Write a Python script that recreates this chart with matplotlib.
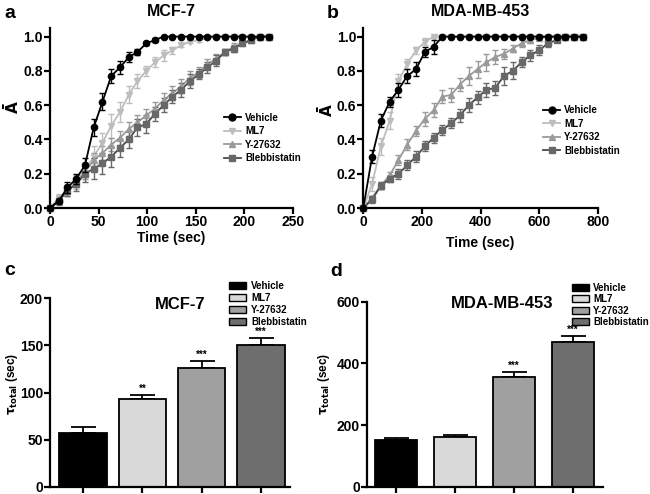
import matplotlib
matplotlib.use("Agg")
import matplotlib.pyplot as plt
from matplotlib.patches import Patch
from matplotlib.lines import Line2D
import numpy as np

plt.rcParams['font.family'] = ['Liberation Sans', 'DejaVu Sans']
plt.rcParams['font.weight'] = 'bold'
plt.rcParams['mathtext.default'] = 'bf'

groups = ["Vehicle", "ML7", "Y-27632", "Blebbistatin"]

# Panel a: MCF-7 (time step 9 s)
t_a = list(range(0, 226, 9))
a_vehicle = [0, 0.04, 0.12, 0.17, 0.25, 0.47, 0.62, 0.77, 0.82, 0.88, 0.91, 0.96, 0.98,
             1.0, 1.0, 1.0, 1.0, 1.0, 1.0, 1.0, 1.0, 1.0, 1.0, 1.0, 1.0, 1.0]
a_vehicle_err = [0, 0.01, 0.03, 0.03, 0.04, 0.05, 0.05, 0.04, 0.04, 0.03, 0.02, 0.01, 0.01,
                 0, 0, 0, 0, 0, 0, 0, 0, 0, 0, 0, 0, 0]
a_ml7 = [0, 0.06, 0.10, 0.15, 0.22, 0.30, 0.38, 0.48, 0.56, 0.66, 0.74, 0.80, 0.85,
         0.89, 0.92, 0.95, 0.97, 0.98, 0.99, 1.0, 1.0, 1.0, 1.0, 1.0, 1.0, 1.0]
a_ml7_err = [0, 0.02, 0.03, 0.04, 0.05, 0.06, 0.06, 0.07, 0.06, 0.05, 0.04, 0.03, 0.03,
             0.03, 0.02, 0.01, 0.01, 0.01, 0, 0, 0, 0, 0, 0, 0, 0]
a_y27632 = [0, 0.05, 0.10, 0.15, 0.21, 0.28, 0.32, 0.37, 0.41, 0.46, 0.50, 0.54, 0.58,
            0.63, 0.67, 0.71, 0.76, 0.79, 0.84, 0.87, 0.91, 0.94, 0.96, 0.98, 1.0, 1.0]
a_y27632_err = [0, 0.02, 0.03, 0.03, 0.04, 0.04, 0.04, 0.04, 0.04, 0.04, 0.04, 0.04, 0.04,
                0.04, 0.04, 0.04, 0.04, 0.03, 0.03, 0.03, 0.02, 0.02, 0.01, 0.01, 0, 0]
a_bleb = [0, 0.04, 0.10, 0.14, 0.20, 0.23, 0.26, 0.30, 0.35, 0.40, 0.47, 0.49, 0.55,
          0.60, 0.65, 0.69, 0.74, 0.78, 0.82, 0.86, 0.91, 0.93, 0.96, 0.98, 1.0, 1.0]
a_bleb_err = [0, 0.02, 0.03, 0.04, 0.05, 0.06, 0.06, 0.06, 0.05, 0.05, 0.05, 0.05, 0.04,
              0.04, 0.04, 0.04, 0.04, 0.03, 0.03, 0.03, 0.02, 0.02, 0.01, 0.01, 0, 0]

# Panel b: MDA-MB-453 (time step 30 s)
t_b = list(range(0, 751, 30))
b_vehicle = [0, 0.30, 0.51, 0.62, 0.69, 0.77, 0.81, 0.91, 0.94, 1.0, 1.0, 1.0, 1.0,
             1.0, 1.0, 1.0, 1.0, 1.0, 1.0, 1.0, 1.0, 1.0, 1.0, 1.0, 1.0, 1.0]
b_vehicle_err = [0, 0.04, 0.04, 0.03, 0.04, 0.04, 0.04, 0.03, 0.04, 0, 0, 0, 0,
                 0, 0, 0, 0, 0, 0, 0, 0, 0, 0, 0, 0, 0]
b_ml7 = [0, 0.14, 0.36, 0.51, 0.74, 0.84, 0.92, 0.97, 1.0, 1.0, 1.0, 1.0, 1.0,
         1.0, 1.0, 1.0, 1.0, 1.0, 1.0, 1.0, 1.0, 1.0, 1.0, 1.0, 1.0, 1.0]
b_ml7_err = [0, 0.04, 0.05, 0.05, 0.04, 0.03, 0.02, 0.02, 0.01, 0, 0, 0, 0,
             0, 0, 0, 0, 0, 0, 0, 0, 0, 0, 0, 0, 0]
b_y27632 = [0, 0.06, 0.13, 0.19, 0.28, 0.37, 0.45, 0.52, 0.57, 0.65, 0.66, 0.72, 0.77,
            0.81, 0.85, 0.88, 0.90, 0.93, 0.96, 0.98, 0.99, 1.0, 1.0, 1.0, 1.0, 1.0]
b_y27632_err = [0, 0.01, 0.02, 0.02, 0.03, 0.03, 0.03, 0.04, 0.04, 0.04, 0.04, 0.04, 0.05,
                0.05, 0.05, 0.04, 0.03, 0.02, 0.02, 0.02, 0.01, 0.01, 0, 0, 0, 0]
b_bleb = [0, 0.05, 0.13, 0.17, 0.20, 0.25, 0.30, 0.36, 0.41, 0.455, 0.495, 0.54, 0.60,
          0.645, 0.69, 0.70, 0.77, 0.80, 0.85, 0.89, 0.92, 0.96, 0.98, 1.0, 1.0, 1.0]
b_bleb_err = [0, 0.02, 0.02, 0.02, 0.03, 0.03, 0.03, 0.03, 0.03, 0.03, 0.03, 0.04, 0.04,
              0.04, 0.04, 0.04, 0.05, 0.05, 0.03, 0.03, 0.03, 0.02, 0.01, 0.01, 0, 0]

# Panel c / d bars
c_vals = [57, 93, 126, 150]
c_errs = [6, 4, 7, 8]
c_sig = ["", "**", "***", "***"]
d_vals = [150, 162, 355, 470]
d_errs = [8, 5, 18, 18]
d_sig = ["", "", "***", "***"]

line_colors = ["black", "#bdbdbd", "#9a9a9a", "#4a4a4a"]
marker_colors = ["black", "#bdbdbd", "#9a9a9a", "#686868"]
markers = ["o", "v", "^", "s"]
bar_colors = ["black", "#d9d9d9", "#a0a0a0", "#6e6e6e"]

W, H = 650, 494
fig = plt.figure(figsize=(6.5, 4.94), dpi=100)

def ax_px(l, r, b, t):
    return fig.add_axes([l / W, (H - b) / H, (r - l) / W, (b - t) / H])

def px_to_axes(ax, x, y):
    inv = ax.transAxes.inverted()
    return inv.transform(fig.transFigure.transform((x / W, 1 - y / H)))

def style(ax):
    for s in ["top", "right"]:
        ax.spines[s].set_visible(False)
    for s in ["left", "bottom"]:
        ax.spines[s].set_linewidth(1.6)
    ax.tick_params(width=1.6, length=4, labelsize=10, direction='out', pad=1)
    for lab in ax.get_xticklabels() + ax.get_yticklabels():
        lab.set_fontweight('bold')

def curves(ax, t, series, errs):
    handles = []
    for i in [3, 2, 1, 0]:
        ax.plot(t, series[i], color=line_colors[i], lw=1.3, zorder=2 + i * 0.1 if i else 5)
        ax.errorbar(t, series[i], yerr=errs[i], fmt=markers[i], color=marker_colors[i],
                    ms=4.5 if i == 0 else 5, capsize=2.5, elinewidth=1.0, capthick=1.0,
                    zorder=3 + i * 0.1 if i else 6, clip_on=False)
    for i in range(4):
        handles.append(Line2D([0], [0], color=line_colors[i], marker=markers[i],
                              markerfacecolor=marker_colors[i], markeredgecolor=marker_colors[i],
                              ms=5, lw=1.3))
    return handles

def place_ylabel(ax, label, x, y, size):
    ax.set_ylabel(label, fontsize=size, fontweight='bold', va='center')
    ax.yaxis.set_label_coords(*px_to_axes(ax, x, y))

# Panel a
axa = ax_px(50, 293, 208, 28)
h = curves(axa, t_a, [a_vehicle, a_ml7, a_y27632, a_bleb],
           [a_vehicle_err, a_ml7_err, a_y27632_err, a_bleb_err])
axa.set_xlim(0, 250)
axa.set_ylim(0, 1.05)
axa.set_xticks([0, 50, 100, 150, 200, 250])
axa.set_yticks([0, 0.2, 0.4, 0.6, 0.8, 1.0])
axa.set_yticklabels(["0.0", "0.2", "0.4", "0.6", "0.8", "1.0"])
style(axa)
axa.set_xlabel("Time (sec)", fontsize=10, fontweight='bold', labelpad=1.5)
place_ylabel(axa, r"$\bar{A}$", 12, 107, 11)
axa.set_title("MCF-7", fontsize=11.5, fontweight='bold', pad=9)
axa.legend(h, groups, loc='center left', bbox_to_anchor=(0.695, 0.39), frameon=False,
           prop={'size': 7, 'weight': 'bold'}, handlelength=1.8, handletextpad=0.4,
           labelspacing=0.35, borderpad=0)
fig.text(4 / W, 1 - 14 / H, "a", fontsize=14, fontweight='bold', va='center')

# Panel b
axb = ax_px(363.3, 597.7, 208, 28)
h = curves(axb, t_b, [b_vehicle, b_ml7, b_y27632, b_bleb],
           [b_vehicle_err, b_ml7_err, b_y27632_err, b_bleb_err])
axb.set_xlim(0, 800)
axb.set_ylim(0, 1.05)
axb.set_xticks([0, 200, 400, 600, 800])
axb.set_yticks([0, 0.2, 0.4, 0.6, 0.8, 1.0])
axb.set_yticklabels(["0.0", "0.2", "0.4", "0.6", "0.8", "1.0"])
style(axb)
axb.set_xlabel("Time (sec)", fontsize=10, fontweight='bold', labelpad=5)
place_ylabel(axb, r"$\bar{A}$", 326, 110, 11)
axb.set_title("MDA-MB-453", fontsize=11.5, fontweight='bold', pad=9)
axb.legend(h, groups, loc='center left', bbox_to_anchor=(0.745, 0.43), frameon=False,
           prop={'size': 7, 'weight': 'bold'}, handlelength=1.8, handletextpad=0.4,
           labelspacing=0.35, borderpad=0)
fig.text(327 / W, 1 - 14 / H, "b", fontsize=14, fontweight='bold', va='center')

def bars(ax, vals, errs, sig, width, ymax, step, star_off):
    x = np.arange(len(vals))
    ax.bar(x, vals, width=width, color=bar_colors, edgecolor='black', linewidth=1.3, zorder=2)
    ax.errorbar(x, vals, yerr=[np.zeros(len(errs)), errs], fmt='none', ecolor='black',
                elinewidth=1.3, capsize=9, capthick=1.3, zorder=1)
    for xi, v, e, s in zip(x, vals, errs, sig):
        if s:
            ax.text(xi, v + e + star_off, s, ha='center', va='bottom', fontsize=7,
                    fontweight='bold')
    ax.set_ylim(0, ymax)
    ax.set_yticks(np.arange(0, ymax + 1, step))
    ax.set_xticks(x)
    ax.set_xticklabels([])
    style(ax)
    handles = [Patch(facecolor=c, edgecolor='black', linewidth=1.0) for c in bar_colors]
    return handles

tau_label = r"$\mathbf{\tau_{total}}$ (sec)"

# Panel c
axc = ax_px(50, 290, 486.7, 298.3)
hc = bars(axc, c_vals, c_errs, c_sig, 0.8, 200, 50, 1.5)
axc.set_xlim(-0.56, 3.49)
place_ylabel(axc, tau_label, 12, 384, 8.5)
axc.text(*px_to_axes(axc, 180, 304), "MCF-7", transform=axc.transAxes, ha='center',
         va='center', fontsize=12, fontweight='bold')
fig.legend(hc, groups, loc='upper left', bbox_to_anchor=(224 / W, 1 - 276 / H),
           frameon=False, prop={'size': 7, 'weight': 'bold'}, handlelength=1.75,
           handleheight=0.75, handletextpad=0.55, labelspacing=0.22, borderpad=0)
fig.text(4 / W, 1 - 270 / H, "c", fontsize=14, fontweight='bold', va='center')

# Panel d
axd = ax_px(366.7, 603, 486.7, 301.7)
hd = bars(axd, d_vals, d_errs, d_sig, 0.71, 600, 200, 4)
axd.set_xlim(-0.5, 3.51)
place_ylabel(axd, tau_label, 324, 384, 8.5)
axd.text(*px_to_axes(axd, 502, 304), "MDA-MB-453", transform=axd.transAxes, ha='center',
         va='center', fontsize=12, fontweight='bold')
fig.legend(hd, groups, loc='upper left', bbox_to_anchor=(567 / W, 1 - 278 / H),
           frameon=False, prop={'size': 7, 'weight': 'bold'}, handlelength=1.75,
           handleheight=0.75, handletextpad=0.45, labelspacing=0.15, borderpad=0)
fig.text(330 / W, 1 - 272 / H, "d", fontsize=14, fontweight='bold', va='center')

fig.savefig("out.png", dpi=100)
